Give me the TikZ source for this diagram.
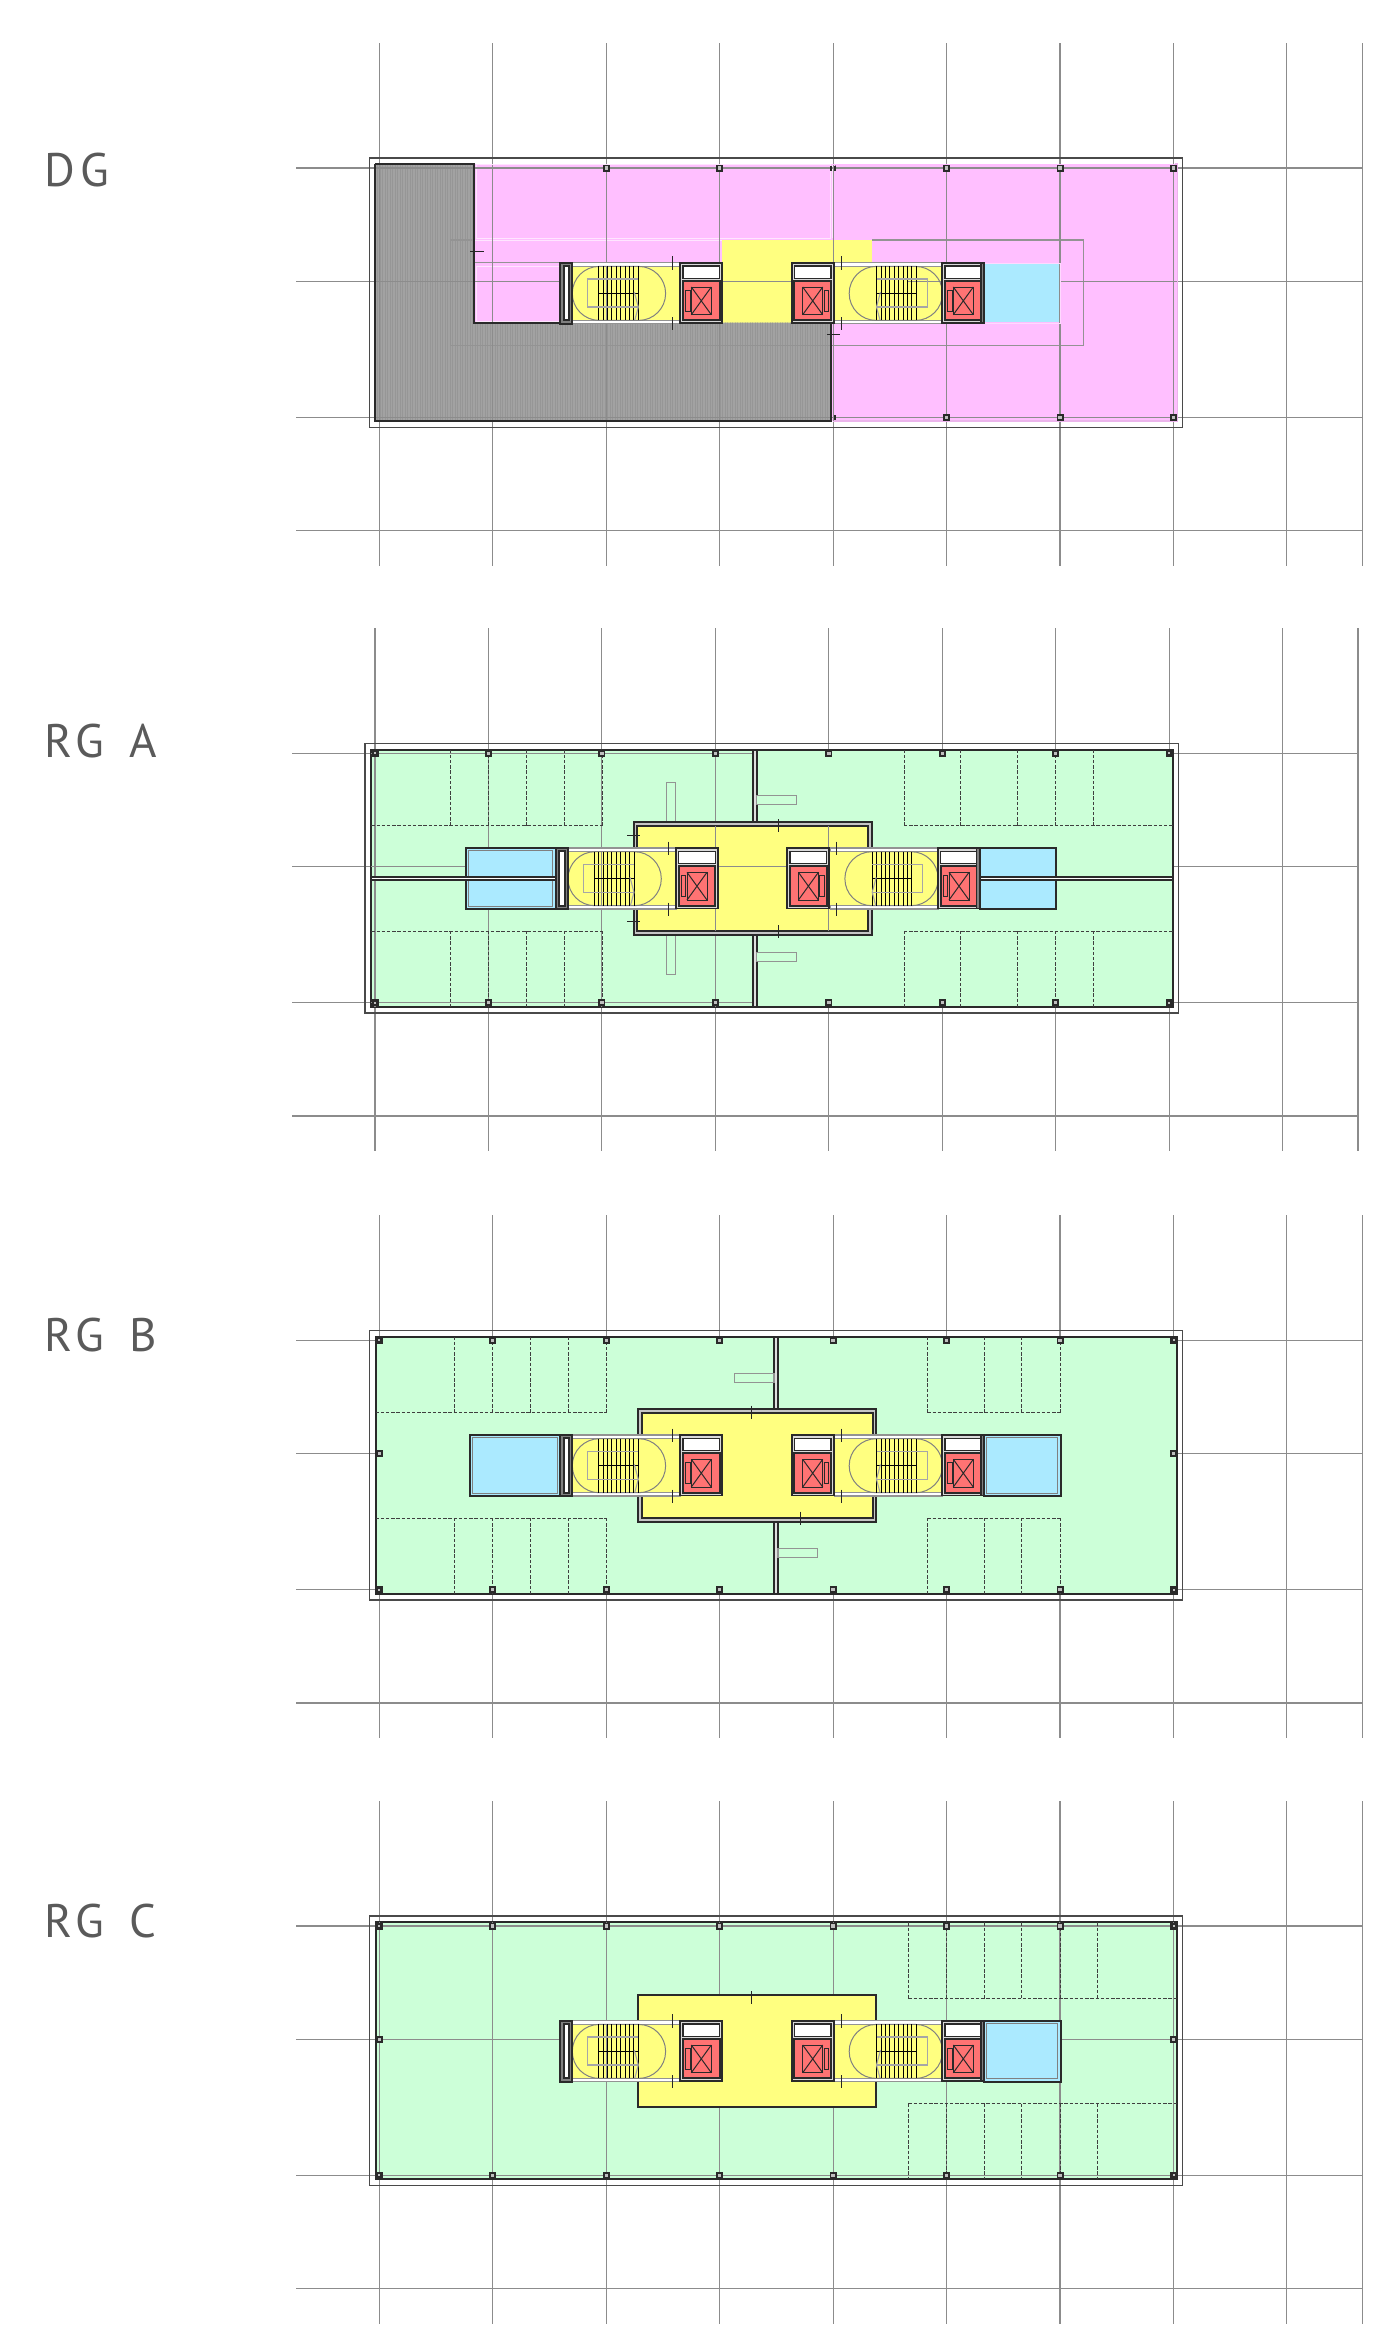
\documentclass[tikz,border=0pt]{standalone}
\usepackage{fontspec}
\setmainfont[LetterSpace=12,WordSpace=1.4]{PT Sans}
\definecolor{wallc}{HTML}{2A2A2A}
\definecolor{gridc}{HTML}{8C8C8C}
\definecolor{greenf}{HTML}{CCFFD8}
\definecolor{pinkf}{HTML}{FFBFFF}
\definecolor{yellowf}{HTML}{FFFF80}
\definecolor{redf}{HTML}{FF7373}
\definecolor{bluef}{HTML}{ABEAFF}
\definecolor{grayf}{HTML}{A2A2A2}
\definecolor{grayh}{HTML}{969696}
\definecolor{labelc}{HTML}{5A5A5A}
\tikzset{
 gridl/.style={draw=gridc,line width=1.1pt},
 wall/.style={draw=wallc,line width=1.9pt},
 thinwall/.style={draw=wallc,line width=1pt},
 graybox/.style={draw=gray!85,line width=1.1pt},
 parkl/.style={draw=wallc!90,line width=1pt,dash pattern=on 3.4pt off 1.8pt},
 tickl/.style={draw=black!85,line width=0.9pt},
 lab/.style={text=labelc,font=\fontsize{47}{47}\selectfont,anchor=base west,inner sep=0pt},
}
\newcommand\fpgrid{%
 \foreach \k in {0,...,8} \draw[gridl] (\k*113.45,-125) -- (\k*113.45,398);
 \draw[gridl] (983,-125) -- (983,398);
 \foreach \yy in {0,113.4,249.4,362.7} \draw[gridl] (-83,\yy) -- (983,\yy);
 \draw[draw=wallc!85,line width=1.1pt] (-10,-10) rectangle (803.5,259.7);
}
\newcommand\fpcol[2]{\draw[fill=gray!50,draw=wallc,line width=1.8pt] (#1-2.6,#2-2.6) rectangle (#1+2.6,#2+2.6);}
\newcommand\fpcolsall{%
 \foreach \k in {0,...,7} {\fpcol{\k*113.45}{0}\fpcol{\k*113.45}{249.4}}
 \foreach \yy in {0,249.4} {\fill[wallc] (-2.8,\yy-2.8) rectangle (2.8,\yy+2.8);\fill[gray!50] (-1,\yy-1) rectangle (1,\yy+1);
   \fill[wallc] (791.2,\yy-2.8) rectangle (797.7,\yy+2.8);\fill[gray!50] (793.2,\yy-1) rectangle (795.2,\yy+1);}
}
\newcommand\fpmidcols{\fpcol{0}{113.4}\fpcol{794.15}{113.4}}
\newcommand\stairfill{\fill[yellowf] (192,98) rectangle (302,153) (454,98) rectangle (564,153);}
\newcommand\stairbody{%
 \draw[graybox,fill=white] (193,94.7) rectangle (301,98.4);
 \draw[graybox,fill=white] (193,152.4) rectangle (301,155.7);
 \draw[draw=gray,line width=1pt,rounded corners=26.9pt] (193,98.4) rectangle (286.3,152.4);
 \foreach \tx in {219.3,223.7,228.1,232.5,236.9,241.3,245.7,250.1,254.5,259}
   \draw[draw=black,line width=0.85pt] (\tx,98.4) -- (\tx,152.4);
 \draw[draw=black,line width=0.85pt] (219.3,125.3) -- (259,125.3);
 \draw[draw=gray!70,line width=1.1pt] (259,111) -- (208.3,111) -- (208.3,139) -- (259,139);
 \draw[draw=gray!70,line width=1.1pt] (255,124) -- (259,139) -- (255.5,152);
}
\newcommand\elevator[2]{%
 \begin{scope}[shift={(#1,0)},xscale=#2]
 \draw[wall,fill=gray!30] (0,94.7) rectangle (42,155.2);
 \draw[wall,fill=white,line width=1.5pt] (2.7,98) rectangle (39.3,110.4);
 \draw[wall,fill=redf] (2.7,113) rectangle (39.3,152.4);
 \draw[thinwall] (11,119) rectangle (31,146.7);
 \draw[thinwall] (11,119) -- (31,146.7) (31,119) -- (11,146.7);
 \draw[thinwall] (5.3,122.4) rectangle (9.7,143);
 \end{scope}
}
\newcommand\stripbox{%
 \draw[wall,fill=gray] (180.7,94.7) rectangle (193,155.7);
 \draw[wall,fill=white] (184.3,98) rectangle (189.7,152.4);
}
\newcommand\coreparts{%
 \stairbody
 \begin{scope}[shift={(756.2,0)},xscale=-1]\stairbody\end{scope}
 \elevator{301}{1}\elevator{454.4}{-1}\elevator{563}{1}
 \stripbox
 \draw[wall,fill=gray] (601.5,94.7) rectangle (604.8,155.2);
}
\newcommand\coreticks{%
 \foreach \tx in {293.2,461.8} {
  \draw[tickl] (\tx,88.4) -- (\tx,101.7);
  \draw[tickl] (\tx,149.2) -- (\tx,162.4);
 }
}
\newcommand\bluebox[2]{\draw[wall,fill=bluef] (#1,94.6) rectangle (#2,155.6);
 \draw[draw=gray,line width=1.1pt] (#1+2.8,97.6) rectangle (#2-2.8,152.8);}
\newcommand\parking[3]{%
 \foreach \px in {#1} {
  \draw[parkl] (\px,-3.7) -- (\px,72.3);
  \draw[parkl] (\px,177.7) -- (\px,253.3);
 }
 \draw[parkl] (#2,72.3) -- (#3,72.3);
 \draw[parkl] (#2,177.7) -- (#3,177.7);
}
\newcommand\spine[1]{%
 \draw[wall,fill=gray!25] (#1-1.9,-3.7) rectangle (#1+1.9,69);
 \draw[wall,fill=gray!25] (#1-1.9,181.4) rectangle (#1+1.9,253.3);
}
\newcommand\stub[4]{\draw[graybox,fill=greenf] (#1,#2) rectangle (#3,#4);}
\newcommand\hallwall{%
 \draw[wall,fill=gray!45] (258.7,69) rectangle (497,181.4);
 \draw[wall,fill=yellowf] (262.3,72.6) rectangle (493.4,177.8);
}
\begin{document}
\begin{tikzpicture}[x=1pt,y=-1pt]
\useasboundingbox (0,0) rectangle (1393,2338);
\fill[white] (0,0) rectangle (1393,2338);
\node[lab] (lblDG) at (44,186) {DG};
\node[lab] (lblA) at (44,757.7) {RG A};
\node[lab] (lblB) at (44,1351) {RG B};
\node[lab] (lblC) at (44,1937) {RG C};

%%% DG
\begin{scope}[shift={(379.3,168)}]
 \fpgrid
 \fill[pinkf] (-4,-4) rectangle (798,253);
 \fill[yellowf] (342.7,72) rectangle (492.7,96);
 \fill[yellowf] (342.7,72) rectangle (412.6,154.7);
 \fill[grayf] (-4,-4.3) -- (94.8,-4.3) -- (94.8,154.7) -- (451.5,154.7) -- (451.5,253) -- (-4,253) -- cycle;
 \begin{scope}
  \clip (-4,-4.3) -- (94.8,-4.3) -- (94.8,154.7) -- (451.5,154.7) -- (451.5,253) -- (-4,253) -- cycle;
  \foreach \hh in {-4,-1.5,...,452} \draw[draw=grayh,line width=1.1pt] (\hh,-5) -- (\hh,254);
 \end{scope}
 \draw[draw=white!60!pinkf,line width=1pt] (97.2,-3.5) rectangle (451.5,70.3);
 \draw[draw=white!60!pinkf,line width=1pt] (453.5,-3.5) -- (453.5,70.3);
 \draw[draw=pinkf!80!gray,line width=1pt] (94.8,-1) -- (451.5,-1);
 \draw[graybox] (492.7,72) -- (704,72) -- (704,177.7) -- (71.5,177.7) -- (71.5,72) -- (94.8,72);
 \draw[draw=white!60!pinkf,line width=1pt] (94.8,72) -- (342.7,72);
 \draw[graybox] (94.8,94.7) -- (180.4,94.7);
 \draw[draw=white!60!pinkf,line width=1pt] (97.2,98) -- (180.4,98) (97.2,98) -- (97.2,153) -- (180.4,153);
 \draw[draw=pinkf!85!gray,line width=1.2pt] (796,-4) -- (798,-4) -- (798,253) -- (453.5,253);
 \foreach \k in {0,...,7} \draw[gridl] (\k*113.45,-3.5) -- (\k*113.45,253);
 \foreach \yy in {0,113.4,249.4} \draw[gridl] (-3.5,\yy) -- (798,\yy);
 \draw[wall] (-4,-4.3) -- (94.8,-4.3) -- (94.8,154.7) -- (180.4,154.7);
 \draw[wall] (-4,-4.3) -- (-4,253) -- (451.5,253) -- (451.5,154.7);
 \fill[yellowf] (192,98) rectangle (302,153) (454,98) rectangle (564,153);
 \draw[gridl] (226.9,98) -- (226.9,153);
 \draw[gridl] (529,113.4) -- (564,113.4);
 \fill[bluef] (604.6,96) rectangle (680,153.7);
 \draw[draw=white!40!pinkf,line width=1pt] (604.6,95) -- (681.5,95) -- (681.5,155) -- (604.6,155);
 \coreparts
 \coreticks
 \draw[tickl] (90.9,83.3) -- (104.3,83.3);
 \draw[tickl] (447.6,166.3) -- (461,166.3);
 \foreach \k in {2,3,5,6,7} \fpcol{\k*113.45}{0}
 \foreach \k in {5,6,7} \fpcol{\k*113.45}{249.4}
 \draw[wall] (455.5,-2.5) -- (455.5,2.5) (455.5,247) -- (455.5,252);
 \draw[wall] (451.5,-2.5) -- (451.5,2.5) (451.5,247) -- (451.5,251);
\end{scope}

%%% RG A
\begin{scope}[shift={(375,753.3)}]
 \fpgrid
 \draw[wall,fill=greenf] (-3.7,-3.7) rectangle (797.7,253.3);
 \foreach \k in {0,...,3} \draw[gridl] (\k*113.45,-3.7) -- (\k*113.45,253.3);
 \draw[gridl] (-3.7,0) -- (379,0);
 \draw[gridl] (-3.7,249.4) -- (379,249.4);
 \draw[gridl] (-3.7,113.4) -- (90,113.4);
 \parking{75.7,113.3,151.3,189,227}{-3.7}{227}
 \parking{529,585.7,642.3,680.7,718.7}{529}{797.7}
 \spine{379.7}
 \stub{291.3}{29}{300.3}{69}
 \stub{291.3}{181.4}{300.3}{221.3}
 \stub{381.7}{42}{421.3}{51}
 \stub{381.7}{199}{421.3}{208.4}
 \hallwall
 \draw[gridl] (340.35,72.6) -- (340.35,177.8) (453.8,72.6) -- (453.8,177.8);
 \draw[gridl] (342,113.4) -- (412,113.4);
 \stairfill
 \draw[gridl] (226.9,98) -- (226.9,153);
 \bluebox{90.7}{180.7}
 \fill[bluef] (604.6,94.6) rectangle (681.3,155.6);
 \draw[wall] (604.6,94.6) rectangle (681.3,155.6);
 \draw[wall,fill=white] (-3.7,123.4) rectangle (180.7,127);
 \draw[wall,fill=white] (604.6,123.4) rectangle (797.7,127);
 \coreparts
 \coreticks
 \draw[tickl] (252.3,81.7) -- (265,81.7);
 \draw[tickl] (252.3,167.7) -- (265,167.7);
 \draw[tickl] (403.7,65.7) -- (403.7,78.7);
 \draw[tickl] (403.7,171.7) -- (403.7,184.7);
 \fpcolsall
\end{scope}

%%% RG B
\begin{scope}[shift={(379.3,1340.3)}]
 \fpgrid
 \draw[wall,fill=greenf] (-3.7,-3.7) rectangle (797.7,253.3);
 \parking{75.4,113,151,189,227}{-3.7}{227}
 \parking{548,604.7,642.4,680.7}{548}{680.7}
 \spine{396.7}
 \stub{355}{33}{394.7}{42}
 \stub{398.7}{208.4}{438.4}{217.4}
 \hallwall
 \stairfill
 \bluebox{90.4}{180.7}
 \bluebox{604.6}{681.4}
 \coreparts
 \coreticks
 \draw[tickl] (372.4,65.4) -- (372.4,78.7);
 \draw[tickl] (421,171.4) -- (421,184.4);
 \fpcolsall
 \fpmidcols
\end{scope}

%%% RG C
\begin{scope}[shift={(379.3,1926)}]
 \fpgrid
 \draw[wall,fill=greenf] (-3.7,-3.7) rectangle (797.7,253.3);
 \foreach \k in {0,...,7} \draw[gridl] (\k*113.45,-3.7) -- (\k*113.45,253.3);
 \foreach \yy in {0,249.4} \draw[gridl] (-3.7,\yy) -- (797.7,\yy);
 \draw[gridl] (-3.7,113.4) -- (180,113.4) (681,113.4) -- (797.7,113.4);
 \parking{529,566.7,604.7,642.4,680.7,718.4}{529}{797.7}
 \draw[wall,fill=yellowf] (258.4,68.7) rectangle (497,181.3);
 \stairfill
 \draw[gridl] (226.9,98) -- (226.9,153);
 \bluebox{604.6}{681.4}
 \coreparts
 \coreticks
 \draw[tickl] (372.4,65) -- (372.4,78.3);
 \fpcolsall
 \fpmidcols
\end{scope}
\end{tikzpicture}
\end{document}
